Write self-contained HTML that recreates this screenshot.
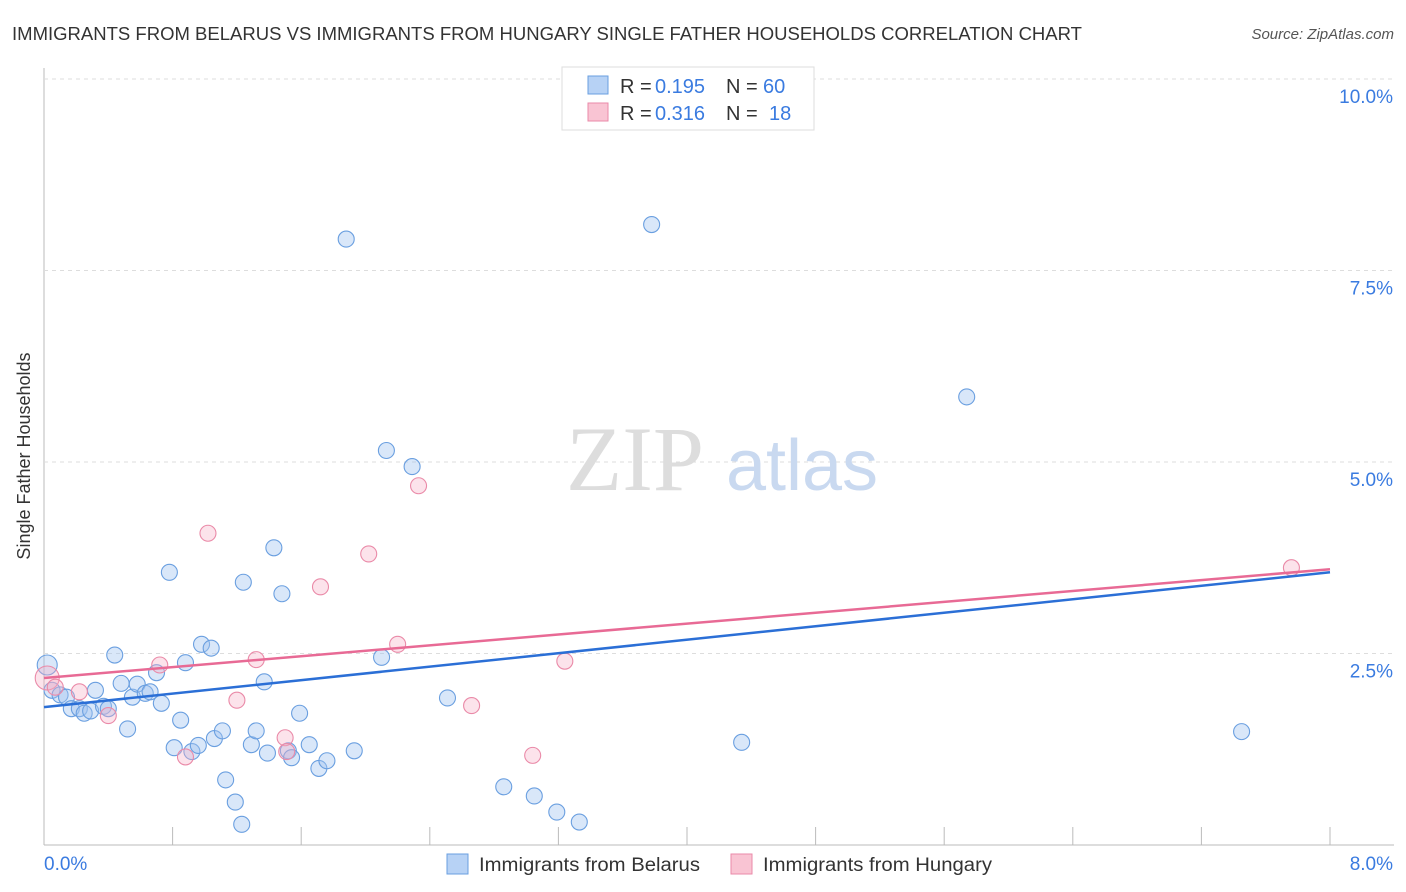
<!DOCTYPE html>
<html><head><meta charset="utf-8">
<style>
body{margin:0;background:#fff;font-family:"Liberation Sans",sans-serif;}
svg{display:block}
</style></head>
<body>
<svg id="chart" width="1406" height="892">
<text x="12" y="40" font-size="18" fill="#333" textLength="1070" lengthAdjust="spacingAndGlyphs">IMMIGRANTS FROM BELARUS VS IMMIGRANTS FROM HUNGARY SINGLE FATHER HOUSEHOLDS CORRELATION CHART</text>
<text x="1394" y="39" font-size="15" fill="#555" font-style="italic" text-anchor="end">Source: ZipAtlas.com</text>
<text x="30" y="456" font-size="18" fill="#333" text-anchor="middle" transform="rotate(-90 30 456)">Single Father Households</text>
<g id="grid"></g>
<g>
<text x="635" y="490" font-size="92" fill="#ddd" font-family="Liberation Serif,serif" text-anchor="middle">ZIP</text>
<text x="802" y="490" font-size="72" fill="#c9d9f0" text-anchor="middle">atlas</text>
</g>
<g id="marks"></g>
<g>
<rect x="562" y="67" width="252" height="63" fill="#fff" stroke="#ddd"/>
<rect x="588" y="76" width="20" height="18" fill="#b7d2f5" stroke="#6a9fe0"/>
<rect x="588" y="103" width="20" height="18" fill="#f9c4d3" stroke="#ea8aa8"/>
<text x="620" y="93" font-size="20" fill="#333">R =</text>
<text x="655" y="93" font-size="20" fill="#3a7be0">0.195</text>
<text x="726" y="93" font-size="20" fill="#333">N =</text>
<text x="763" y="93" font-size="20" fill="#3a7be0">60</text>
<text x="620" y="120" font-size="20" fill="#333">R =</text>
<text x="655" y="120" font-size="20" fill="#3a7be0">0.316</text>
<text x="726" y="120" font-size="20" fill="#333">N =</text>
<text x="769" y="120" font-size="20" fill="#3a7be0">18</text>
</g>
<g>
<rect x="447" y="854" width="21" height="20" fill="#b7d2f5" stroke="#6a9fe0"/>
<text x="479" y="871" font-size="19" fill="#333" textLength="221" lengthAdjust="spacingAndGlyphs">Immigrants from Belarus</text>
<rect x="731" y="854" width="21" height="20" fill="#f9c4d3" stroke="#ea8aa8"/>
<text x="763" y="871" font-size="19" fill="#333" textLength="229" lengthAdjust="spacingAndGlyphs">Immigrants from Hungary</text>
</g>
</svg>
<script>
const xTicks=[0,0.8,1.6,2.4,3.2,4.0,4.8,5.6,6.4,7.2,8.0];
const yTicks=[2.5,5.0,7.5,10.0];
const yTickLabels=["2.5%","5.0%","7.5%","10.0%"];
const xEndLabels=["0.0%","8.0%"];
const belarusX=[0.02,0.05,0.10,0.14,0.17,0.22,0.25,0.29,0.32,0.37,0.40,0.44,0.48,0.52,0.55,0.58,0.63,0.66,0.70,0.73,0.78,0.81,0.85,0.88,0.92,0.96,0.98,1.04,1.06,1.11,1.13,1.19,1.23,1.24,1.29,1.32,1.37,1.39,1.43,1.48,1.52,1.54,1.59,1.65,1.71,1.76,1.88,1.93,2.10,2.13,2.29,2.51,2.86,3.05,3.19,3.33,3.78,4.34,5.74,7.45];
const belarusY=[2.35,2.02,1.96,1.93,1.78,1.78,1.72,1.75,2.02,1.81,1.78,2.48,2.11,1.515,1.93,2.10,1.98,2.0,2.25,1.85,3.56,1.27,1.63,2.38,1.22,1.30,2.62,2.57,1.39,1.49,0.85,0.56,0.27,3.43,1.31,1.49,2.13,1.20,3.88,3.28,1.23,1.14,1.72,1.31,1.00,1.10,7.91,1.23,2.45,5.15,4.94,1.92,0.76,0.64,0.43,0.30,8.10,1.34,5.85,1.48];
const hungaryX=[0.02,0.07,0.22,0.40,0.72,0.88,1.02,1.20,1.32,1.50,1.51,1.72,2.02,2.20,2.33,2.66,3.04,3.24,7.76];
const hungaryY=[2.18,2.06,2.0,1.69,2.35,1.15,4.07,1.89,2.42,1.40,1.22,3.37,3.80,2.62,4.69,1.82,1.17,2.40,3.62];
const belarusFit=[1.80,3.56];
const hungaryFit=[2.18,3.60];
const X0=44,X1=1330,Y0=845,PY=76.6;
const sx=v=>X0+(v-0)/(8-0)*(X1-X0);
const sy=v=>Y0-v*PY;
const NS="http://www.w3.org/2000/svg";
function mk(t,a,p){const e=document.createElementNS(NS,t);for(const k in a)e.setAttribute(k,a[k]);p.appendChild(e);return e;}
const grid=document.getElementById('grid'),marks=document.getElementById('marks');
mk('line',{x1:X0,y1:68,x2:X0,y2:Y0,stroke:'#bbb'},grid);
mk('line',{x1:X0,y1:Y0,x2:1394,y2:Y0,stroke:'#bbb'},grid);
yTicks.forEach((v,i)=>{
 const l=mk('line',{x1:X0,y1:sy(v),x2:1394,y2:sy(v),stroke:'#ddd','stroke-dasharray':'4,4'},grid);
 
 
 const t=mk('text',{x:1393,y:sy(v)+24,'font-size':19,fill:'#3a7be0','text-anchor':'end'},grid);
 t.textContent=yTickLabels[i];
 
 
});
mk('line',{x1:X0,y1:79,x2:1394,y2:79,stroke:'#ddd','stroke-dasharray':'4,4'},grid);
xTicks.forEach(v=>{
 const l=mk('line',{x1:sx(v),y1:Y0,x2:sx(v),y2:Y0-18,stroke:'#bbb'},grid);
 
 
});
[[0,'start',44],[8,'end',1393]].forEach((d,i)=>{
 const t=mk('text',{x:d[2],y:870,'font-size':19,fill:'#3a7be0','text-anchor':d[1]},grid);
 t.textContent=xEndLabels[i];
 
 
});
belarusX.forEach((v,i)=>{
 const c=mk('circle',{cx:sx(v),cy:sy(belarusY[i]),r:i==0?10:8,fill:'rgba(160,196,240,0.4)',stroke:'#6a9fe0','stroke-width':1.1},marks);
 
 
});
hungaryX.forEach((v,i)=>{
 const c=mk('circle',{cx:sx(v),cy:sy(hungaryY[i]),r:i==0?12:8,fill:'rgba(245,175,198,0.35)',stroke:'#ea8aa8','stroke-width':1.1},marks);
 
 
});
const bl=mk('line',{x1:sx(0),y1:sy(belarusFit[0]),x2:sx(8),y2:sy(belarusFit[1]),stroke:'#2b6fd6','stroke-width':2.5},marks);


const hl=mk('line',{x1:sx(0),y1:sy(hungaryFit[0]),x2:sx(8),y2:sy(hungaryFit[1]),stroke:'#e86a95','stroke-width':2.5},marks);


</script>
</body></html>
